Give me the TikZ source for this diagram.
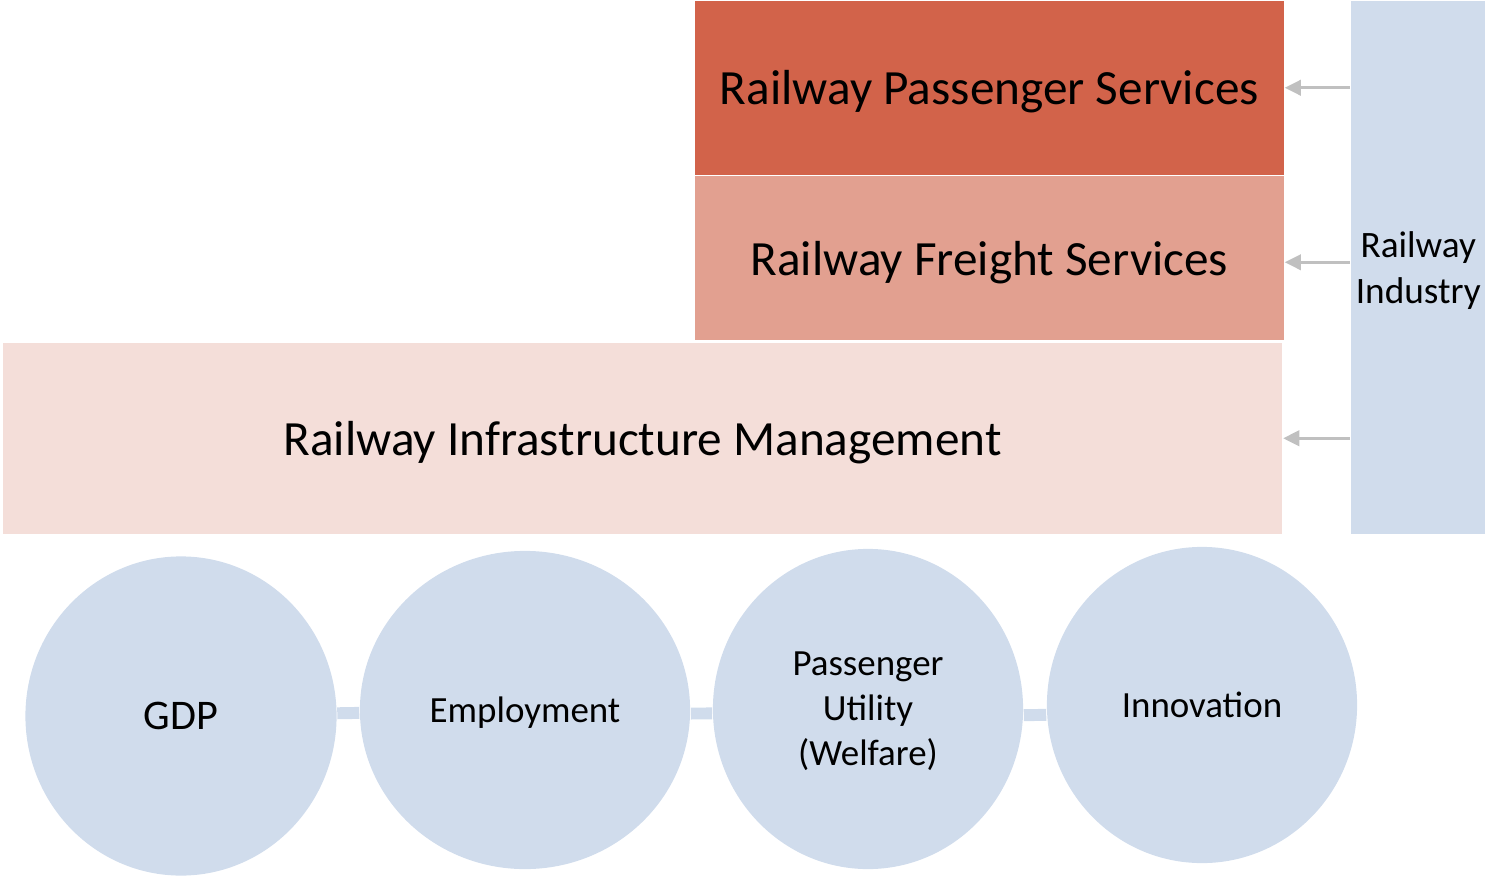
\documentclass[tikz,border=0pt]{standalone}
\usepackage{fontspec}
\setmainfont{Carlito}
\usepackage{tikz}
\usetikzlibrary{shapes.geometric, arrows.meta, positioning, backgrounds}

\definecolor{passred}{RGB}{210,99,74}
\definecolor{freightred}{RGB}{226,160,144}
\definecolor{infrapink}{RGB}{244,222,217}
\definecolor{railblue}{RGB}{208,220,236}
\definecolor{feedgray}{RGB}{192,192,192}

\begin{document}
\begin{tikzpicture}[x=0.01cm, y=-0.01cm]
\tikzstyle{layer} = [rectangle, inner sep=0pt, align=center, text depth=0pt, font=\fontsize{14}{17}\selectfont]
\tikzstyle{effect} = [ellipse, fill=railblue, inner sep=0pt, align=center, text depth=0pt, font=\fontsize{10.5}{12.8}\selectfont]
\tikzstyle{feed} = [draw=feedgray, line width=0.75pt, -{Triangle[length=4.6pt, width=4.4pt]}]
\tikzstyle{link} = [draw=railblue, line width=3.4pt]

\useasboundingbox (0,0) rectangle (1485,879);

% industry layers
\node (pas) [layer, fill=passred, minimum width=5.89cm, minimum height=1.74cm, anchor=north west] at (694,0) {Railway Passenger Services};
\node (frt) [layer, fill=freightred, minimum width=5.89cm, minimum height=1.64cm, below=0pt of pas] {Railway Freight Services};
\node (inf) [layer, fill=infrapink, minimum width=12.79cm, minimum height=1.91cm, anchor=north west] at (2,342) {Railway Infrastructure Management};
\node (ind) [layer, fill=railblue, minimum width=1.35cm, minimum height=5.33cm, anchor=north west, font=\fontsize{10.6}{13}\selectfont] at (1350,0) {Railway\\Industry};

\draw[feed] (ind.west |- pas.east) -- (pas.east);
\draw[feed] ([yshift=-0.04cm]ind.west |- frt.east) -- ([yshift=-0.04cm]frt.east);
\draw[feed] (ind.west |- inf.east) -- (inf.east);

% effects
\node (gdp) [effect, minimum width=3.11cm, minimum height=3.19cm, font=\fontsize{12}{14}\selectfont] at (181,716) {GDP};
\node (emp) [effect, minimum width=3.3cm, minimum height=3.18cm] at (525,710) {Employment};
\node (utl) [effect, minimum width=3.1cm, minimum height=3.2cm] at (868,709) {Passenger\\Utility\\(Welfare)};
\node (inn) [effect, minimum width=3.1cm, minimum height=3.16cm] at (1202,705) {Innovation};

\begin{scope}[on background layer]
\draw[link] (gdp) -- (emp);
\draw[link, transform canvas={yshift=-0.04cm}] (emp) -- (utl);
\draw[link, transform canvas={yshift=-0.08cm}] (utl) -- (inn);
\end{scope}

\end{tikzpicture}
\end{document}
